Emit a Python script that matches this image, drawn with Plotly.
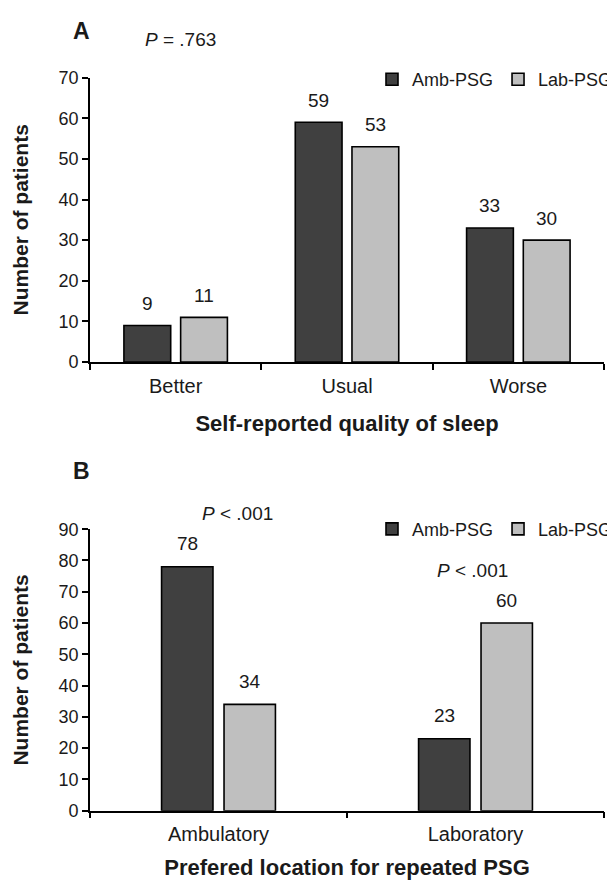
import plotly.graph_objects as go

# ---------------- data ----------------
quality_categories = ["Better", "Usual", "Worse"]
quality_amb = [9, 59, 33]
quality_lab = [11, 53, 30]

location_categories = ["Ambulatory", "Laboratory"]
location_amb = [78, 23]
location_lab = [34, 60]

series_names = ["Amb-PSG", "Lab-PSG"]
yticks_a = [0, 10, 20, 30, 40, 50, 60, 70]
yticks_b = [0, 10, 20, 30, 40, 50, 60, 70, 80, 90]

p_value_a = "<i>P</i> = .763"
p_value_b1 = "<i>P</i> < .001"
p_value_b2 = "<i>P</i> < .001"

# ---------------- style ----------------
W, H = 615, 886
FONT = "Liberation Sans, Arial, sans-serif"
TXT = "#1a1a1a"
colors = ["#404040", "#bfbfbf"]

def px_x(p):
    return p / W

def px_y(p):
    return 1 - p / H

# bar geometry (category units)
bw_a, gap_a = 0.273, 0.058
bw_b, gap_b = 0.200, 0.043
offsets_a = [-(gap_a / 2 + bw_a), gap_a / 2]
offsets_b = [-(gap_b / 2 + bw_b), gap_b / 2]

fig = go.Figure()

panel_a = [quality_amb, quality_lab]
panel_b = [location_amb, location_lab]

for i, (name, vals) in enumerate(zip(series_names, panel_a)):
    fig.add_trace(go.Bar(
        x=quality_categories, y=vals, name=name,
        width=bw_a, offset=offsets_a[i],
        marker=dict(color=colors[i], line=dict(color="black", width=1.6)),
        xaxis="x", yaxis="y", legend="legend",
    ))
for i, (name, vals) in enumerate(zip(series_names, panel_b)):
    fig.add_trace(go.Bar(
        x=location_categories, y=vals, name=name,
        width=bw_b, offset=offsets_b[i],
        marker=dict(color=colors[i], line=dict(color="black", width=1.6)),
        xaxis="x2", yaxis="y2", legend="legend2",
    ))

annotations = []
# value labels
for i, vals in enumerate(panel_a):
    for j, v in enumerate(vals):
        annotations.append(dict(
            x=j + offsets_a[i] + bw_a / 2, y=v, xref="x", yref="y",
            text=str(v), showarrow=False, yanchor="middle", yshift=22,
            font=dict(size=19, color=TXT)))
for i, vals in enumerate(panel_b):
    for j, v in enumerate(vals):
        annotations.append(dict(
            x=j + offsets_b[i] + bw_b / 2, y=v, xref="x2", yref="y2",
            text=str(v), showarrow=False, yanchor="middle", yshift=23,
            font=dict(size=19, color=TXT)))

# panel letters & p values
annotations += [
    dict(x=px_x(73), y=px_y(13), xref="paper", yref="paper", text="<b>A</b>",
         showarrow=False, xanchor="center", yanchor="middle", font=dict(size=23, color=TXT)),
    dict(x=px_x(73), y=px_y(463), xref="paper", yref="paper", text="<b>B</b>",
         showarrow=False, xanchor="center", yanchor="middle", font=dict(size=23, color=TXT)),
    dict(x=px_x(135), y=px_y(22), xref="paper", yref="paper", text=p_value_a,
         showarrow=False, xanchor="left", yanchor="middle", font=dict(size=19, color=TXT)),
    dict(x=px_x(192), y=px_y(507), xref="paper", yref="paper", text=p_value_b1,
         showarrow=False, xanchor="left", yanchor="middle", font=dict(size=19, color=TXT)),
    dict(x=px_x(427), y=px_y(565), xref="paper", yref="paper", text=p_value_b2,
         showarrow=False, xanchor="left", yanchor="middle", font=dict(size=19, color=TXT)),
]

axis_common = dict(
    showline=True, linecolor="black", linewidth=1.6, showgrid=False, zeroline=False,
    ticks="outside", ticklen=6, tickwidth=1.6, tickcolor="black",
)

legend_common = dict(orientation="h", xanchor="left", yanchor="middle",
                     font=dict(size=18, color=TXT), itemwidth=30, tracegroupgap=0,
                     bgcolor="rgba(0,0,0,0)", borderwidth=0)

fig.update_layout(
    width=W, height=H,
    margin=dict(l=0, r=0, t=0, b=0),
    paper_bgcolor="white", plot_bgcolor="white",
    font=dict(family=FONT, color=TXT),
    barmode="overlay",
    showlegend=True,
    xaxis=dict(domain=[px_x(82), px_x(596)], anchor="y", range=[-0.5, 2.5],
               tickson="boundaries", tickfont=dict(size=20), ticklabelstandoff=5,
               title=dict(text="<b>Self-reported quality of sleep</b>", font=dict(size=22), standoff=20),
               **axis_common),
    yaxis=dict(domain=[px_y(352), px_y(61)], anchor="x", range=[0, 70],
               tickvals=yticks_a, tickfont=dict(size=18),
               title=dict(text="<b>Number of patients</b>", font=dict(size=21), standoff=24),
               **axis_common),
    xaxis2=dict(domain=[px_x(82), px_x(596)], anchor="y2", range=[-0.5, 1.5],
                tickson="boundaries", tickfont=dict(size=20), ticklabelstandoff=5,
                title=dict(text="<b>Prefered location for repeated PSG</b>", font=dict(size=22), standoff=15),
                **axis_common),
    yaxis2=dict(domain=[px_y(811), px_y(523)], anchor="x2", range=[0, 90],
                tickvals=yticks_b, tickfont=dict(size=18),
                title=dict(text="<b>Number of patients</b>", font=dict(size=21), standoff=24),
                **axis_common),
    legend=dict(x=px_x(364), y=px_y(63), **legend_common),
    legend2=dict(x=px_x(364), y=px_y(523), **legend_common),
    annotations=annotations,
)

fig.write_html("out.html")
